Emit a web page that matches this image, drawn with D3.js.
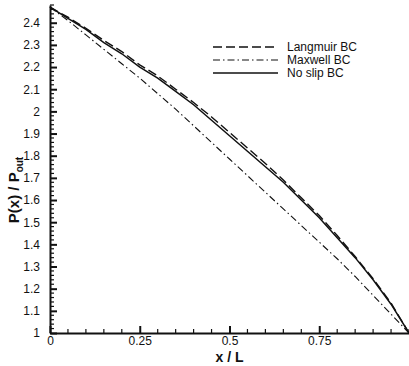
<!DOCTYPE html>
<html>
<head>
<meta charset="utf-8">
<script src="https://cdn.jsdelivr.net/npm/d3@7"></script>
<style>
  html, body { margin: 0; padding: 0; background: #fff; }
  svg { display: block; }
  text { font-family: "Liberation Sans", Arial, sans-serif; fill: #111; }
</style>
</head>
<body>
<svg id="chart" width="409" height="366"></svg>
<script>
// Normalised channel position x/L
const positions = [0, 0.05, 0.1, 0.15, 0.2, 0.25, 0.3, 0.35, 0.4, 0.45, 0.5,
                   0.55, 0.6, 0.65, 0.7, 0.75, 0.8, 0.85, 0.9, 0.95, 1.0];
// Pressure ratio P(x)/P_out for each boundary condition
const langmuir = [2.47, 2.425, 2.375, 2.32, 2.27, 2.21, 2.16, 2.10, 2.04, 1.975, 1.905,
                  1.835, 1.765, 1.69, 1.61, 1.53, 1.44, 1.345, 1.245, 1.135, 1.0];
const maxwell  = [2.47, 2.41, 2.345, 2.28, 2.215, 2.15, 2.08, 2.01, 1.935, 1.86, 1.785,
                  1.71, 1.635, 1.56, 1.485, 1.41, 1.335, 1.255, 1.17, 1.085, 1.0];
const noSlip   = [2.47, 2.42, 2.37, 2.31, 2.26, 2.20, 2.15, 2.09, 2.03, 1.96, 1.89,
                  1.82, 1.75, 1.68, 1.60, 1.52, 1.43, 1.34, 1.24, 1.13, 1.0];
const seriesNames = ["Langmuir BC", "Maxwell BC", "No slip BC"];
const xTickValues = [0, 0.25, 0.5, 0.75];
const xTickLabels = ["0", "0.25", "0.5", "0.75"];
const yTickValues = [1, 1.1, 1.2, 1.3, 1.4, 1.5, 1.6, 1.7, 1.8, 1.9, 2, 2.1, 2.2, 2.3, 2.4];

const svg = d3.select("#chart");
const x = d3.scaleLinear().domain([0, 1]).range([50, 409]);
const y = d3.scaleLinear().domain([1, 2.48]).range([333, 5]);

// Minor ticks
const xMinor = d3.range(0, 1.0001, 0.05).filter(v => !xTickValues.some(t => Math.abs(t - v) < 1e-6));
const yMinor = d3.range(1, 2.481, 0.02).filter(v => !yTickValues.some(t => Math.abs(t - v) < 1e-6));

const gx = svg.append("g").attr("transform", `translate(0,${y(1)})`);
gx.call(d3.axisBottom(x).tickValues(xTickValues)
  .tickFormat((d, i) => xTickLabels[i]).tickSizeInner(-7).tickSizeOuter(0).tickPadding(3));
gx.select(".domain").attr("stroke", "#111").attr("stroke-width", 2);
gx.selectAll(".tick line").attr("stroke", "#111").attr("stroke-width", 2);
gx.selectAll(".tick text").attr("font-size", 12).attr("font-family", "Liberation Sans, Arial, sans-serif").attr("fill", "#111");
gx.selectAll(".minor").data(xMinor).enter().append("line")
  .attr("x1", d => x(d)).attr("x2", d => x(d)).attr("y1", 0).attr("y2", -4)
  .attr("stroke", "#111").attr("stroke-width", 1.2);

const gy = svg.append("g").attr("transform", `translate(${x(0)},0)`);
gy.call(d3.axisLeft(y).tickValues(yTickValues)
  .tickFormat(d3.format("~g")).tickSizeInner(-7).tickSizeOuter(0).tickPadding(10));
gy.select(".domain").attr("stroke", "#111").attr("stroke-width", 2);
gy.selectAll(".tick line").attr("stroke", "#111").attr("stroke-width", 2);
gy.selectAll(".tick text").attr("font-size", 12).attr("font-family", "Liberation Sans, Arial, sans-serif").attr("fill", "#111");
gy.selectAll(".minor").data(yMinor).enter().append("line")
  .attr("x1", 0).attr("x2", 4).attr("y1", d => y(d)).attr("y2", d => y(d))
  .attr("stroke", "#111").attr("stroke-width", 1.2);

// Axis titles
svg.append("text").attr("x", x(0.5)).attr("y", 362).attr("text-anchor", "middle")
  .attr("font-size", 14).attr("font-weight", "bold").text("x / L");

const yt = svg.append("text").attr("transform", "translate(19,190) rotate(-90)")
  .attr("text-anchor", "middle").attr("font-size", 15).attr("font-weight", "bold");
yt.append("tspan").text("P(x) / P");
yt.append("tspan").attr("font-size", 10).attr("dy", 4).text("out");

// Curves
const styles = [
  { data: langmuir, dash: "9,4", width: 1.4 },
  { data: maxwell, dash: "7,3,1.5,3", width: 1.1 },
  { data: noSlip, dash: null, width: 1.5 }
];
const line = d3.line().x((d, i) => x(positions[i])).y(d => y(d));
styles.forEach(s => {
  svg.append("path").datum(s.data).attr("d", line)
    .attr("fill", "none").attr("stroke", "#111")
    .attr("stroke-width", s.width).attr("stroke-dasharray", s.dash);
});

// Legend
const legendY = [47, 60, 73];
styles.forEach((s, i) => {
  svg.append("line").attr("x1", 213).attr("x2", 278).attr("y1", legendY[i]).attr("y2", legendY[i])
    .attr("stroke", "#111").attr("stroke-width", s.width).attr("stroke-dasharray", s.dash);
  svg.append("text").attr("x", 287).attr("y", legendY[i] + 4).attr("font-size", 12)
    .text(seriesNames[i]);
});
</script>
</body>
</html>
